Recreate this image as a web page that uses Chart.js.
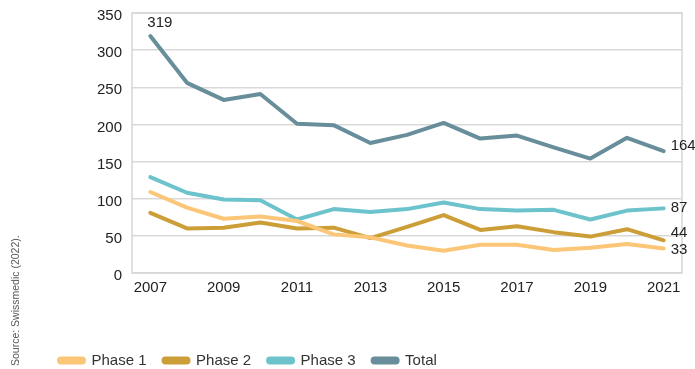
<!DOCTYPE html>
<html>
<head>
<meta charset="utf-8">
<script src="https://cdn.jsdelivr.net/npm/chart.js@4"></script>
<style>
  html, body { margin: 0; padding: 0; background: #fff; }
  .wrap { position: relative; width: 695px; height: 369px; }
  .source {
    position: absolute; left: 9px; top: 366px;
    transform: rotate(-90deg); transform-origin: 0 0;
    font: 10.5px "Liberation Sans", Arial, sans-serif; color: #555;
    white-space: nowrap;
  }
</style>
</head>
<body>
<div class="wrap">
  <canvas id="trials" width="695" height="369"></canvas>
  <div class="source">Source: Swissmedic (2022).</div>
</div>
<script>
const years = ['2007', '2008', '2009', '2010', '2011', '2012', '2013', '2014',
               '2015', '2016', '2017', '2018', '2019', '2020', '2021'];
const phase1 = [109, 88, 73, 76, 70, 52, 48, 37, 30, 38, 38, 31, 34, 39, 33];
const phase2 = [81, 60, 61, 68, 60, 61, 47, 62, 78, 58, 63, 55, 49, 59, 44];
const phase3 = [129, 108, 99, 98, 72, 86, 82, 86, 95, 86, 84, 85, 72, 84, 87];
const total  = [319, 256, 233, 241, 201, 199, 175, 186, 202, 181, 185, 169, 154, 182, 164];
const yTicks = [0, 50, 100, 150, 200, 250, 300, 350];

const FONT = '"Liberation Sans", Arial, sans-serif';

function series(label, data, color) {
  return {
    label: label,
    data: data,
    borderColor: color,
    backgroundColor: color,
    borderWidth: 4,
    pointRadius: 0,
    tension: 0,
    borderJoinStyle: 'round',
    borderCapStyle: 'round'
  };
}

// frame around the plot area and the value labels at the line ends
const annotate = {
  id: 'annotate',
  beforeDatasetsDraw(chart) {
    const { ctx, chartArea: a } = chart;
    ctx.save();
    ctx.strokeStyle = '#d6d6d6';
    ctx.lineWidth = 1.5;
    ctx.strokeRect(a.left, a.top, a.right - a.left, a.bottom - a.top);
    ctx.restore();
  },
  afterDatasetsDraw(chart) {
    const { ctx } = chart;
    const x = chart.scales.x, y = chart.scales.y;
    const last = years.length - 1;
    ctx.save();
    ctx.font = '15px ' + FONT;
    ctx.fillStyle = '#222';
    ctx.textBaseline = 'middle';
    ctx.textAlign = 'left';
    ctx.fillText(String(total[0]), x.getPixelForValue(0) - 3, y.getPixelForValue(total[0]) - 13);
    const ends = [[total, -5], [phase3, -1], [phase2, -7], [phase1, 1]];
    ends.forEach(([d, dy]) => {
      ctx.fillText(String(d[last]), x.getPixelForValue(last) + 7, y.getPixelForValue(d[last]) + dy);
    });
    ctx.restore();
  }
};

new Chart(document.getElementById('trials'), {
  type: 'line',
  data: {
    labels: years,
    datasets: [
      series('Phase 1', phase1, '#fcc678'),
      series('Phase 2', phase2, '#cc9e38'),
      series('Phase 3', phase3, '#6cc3cc'),
      series('Total', total, '#678e9a')
    ]
  },
  options: {
    responsive: false,
    animation: false,
    layout: { padding: { left: 42, right: 13, top: 13, bottom: -9 } },
    plugins: {
      tooltip: { enabled: false },
      legend: {
        position: 'bottom',
        align: 'start',
        labels: {
          font: { family: FONT, size: 15 },
          color: '#333',
          boxWidth: 25,
          boxHeight: 4,
          useBorderRadius: true,
          borderRadius: 2,
          padding: 17
        }
      }
    },
    scales: {
      x: {
        offset: true,
        grid: { display: false, drawTicks: false },
        border: { display: false },
        ticks: {
          autoSkip: false,
          maxRotation: 0,
          color: '#222',
          font: { family: FONT, size: 15 },
          padding: 6,
          callback: (v, i) => (i % 2 === 0 ? years[i] : '')
        },
        afterFit: s => { s.height = 63; }
      },
      y: {
        min: 0,
        max: 350,
        afterBuildTicks: s => { s.ticks = yTicks.map(v => ({ value: v })); },
        grid: { color: '#d9d9d9', lineWidth: 1.5, drawTicks: false },
        border: { display: false },
        ticks: {
          color: '#222',
          font: { family: FONT, size: 15 },
          padding: 10,
          labelOffset: 3
        },
        afterFit: s => { s.width = 90; s.paddingTop = 0; }
      }
    }
  },
  plugins: [annotate]
});
</script>
</body>
</html>
